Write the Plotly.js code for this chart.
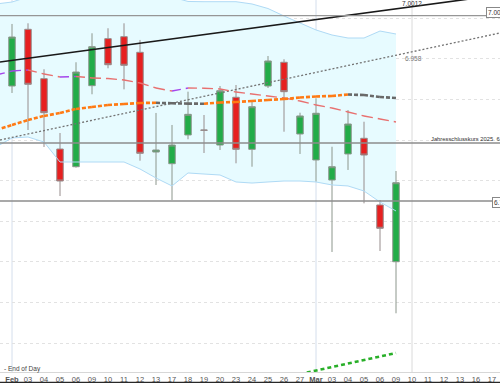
<!DOCTYPE html>
<html>
<head>
<meta charset="utf-8">
<script src="https://cdn.plot.ly/plotly-3.0.1.min.js"></script>
<style>html,body{margin:0;padding:0;background:#fff;}#chart{width:500px;height:383px;}</style>
</head>
<body>
<div id="chart"></div>
<script>
// ---------- data ----------
const tickLabels = ['Feb','03','04','05','06','09','10','11','12','13','17','18','19','20','23','24','25','26','27','Mar','03','04','05','06','09','10','11','12','13','16','17'];
const boldLabels = ['Feb','Mar'];

// daily candles, trading day index 0..24
const open  = [6.9165,6.9863,6.9255,6.8389,6.8171,6.9169,6.9748,6.9772,6.9580,6.8352,6.8208,6.8562,6.8623,6.8438,6.9026,6.8385,6.9165,6.9457,6.8574,6.8254,6.8007,6.8328,6.8521,6.7700,6.7001];
const high  = [6.9929,6.9937,6.9371,6.8586,6.9457,6.9814,6.9876,6.9937,6.9732,6.8833,6.8685,6.9095,6.8808,6.9165,6.9177,6.8993,6.9534,6.9494,6.8836,6.9014,6.8417,6.8869,6.8725,6.7761,6.8118];
const low   = [6.9079,6.8623,6.8414,6.7810,6.8160,6.9063,6.9383,6.9124,6.8245,6.7946,6.7761,6.8509,6.8340,6.8377,6.8213,6.8171,6.9140,6.8602,6.8328,6.7986,6.7121,6.8131,6.7720,6.7133,6.6366];
const close = [6.9768,6.9186,6.8836,6.7995,6.9337,6.9649,6.9427,6.9420,6.8336,6.8377,6.8438,6.8816,6.8620,6.9107,6.8385,6.8910,6.9473,6.9095,6.8796,6.8829,6.8171,6.8697,6.8315,6.7413,6.7974];

// indicators, index -1..24
const bandUpper = [7.0175,7.0199,7.0261,7.0330,7.0400,7.0420,7.0450,7.0460,7.0440,7.0400,7.0320,7.0261,7.0206,7.0203,7.0203,7.0203,7.0175,7.0119,7.0027,6.9941,6.9855,6.9793,6.9756,6.9756,6.9842,6.9805];
const bandLower = [6.8414,6.8525,6.8537,6.8475,6.8229,6.8229,6.8229,6.8229,6.8229,6.8143,6.8032,6.7934,6.8094,6.8081,6.8069,6.7983,6.7970,6.7983,6.7995,6.7995,6.7983,6.7946,6.7934,6.7872,6.7736,6.7626];
const avgShort  = [6.9300,6.9350,6.9362,6.9313,6.9276,6.9282,6.9264,6.9257,6.9239,6.9202,6.9140,6.9103,6.9140,6.9138,6.9128,6.9091,6.9066,6.9042,6.9017,6.8980,6.8931,6.8894,6.8845,6.8796,6.8759,6.8722];
const avgLong   = [6.8623,6.8685,6.8746,6.8796,6.8833,6.8882,6.8906,6.8931,6.8943,6.8956,6.8958,6.8952,6.8948,6.8947,6.8962,6.8968,6.8980,6.8993,6.9005,6.9023,6.9036,6.9042,6.9060,6.9054,6.9030,6.9017];
// green indicator, index 18..24
const lowerSignal = [6.5618,6.5661,6.5711,6.5754,6.5797,6.5840,6.5877];

// trend lines (value at left edge, value at right edge)
const trendBlack  = [6.9461,7.0287];
const trendDotted = [6.8500,6.9818];
const trendLabels = ['7.0012','6.958'];

// horizontal levels
const levelTop = 7.0031;
const yearClose = 6.8463;
const levelLow = 6.7749;

// ---------- build ----------
const X0 = -0.75, X1 = 30.5;
const candleX = open.map((_, i) => i);
const indX = avgShort.map((_, i) => i - 1);
const sigX = lowerSignal.map((_, i) => i + 18);

function segTraces(xs, ys, upColor, downColor, width, dash) {
  const up = {x: [], y: []}, dn = {x: [], y: []};
  for (let k = 0; k < ys.length - 1; k++) {
    const t = ys[k + 1] > ys[k] ? up : dn;
    t.x.push(xs[k], xs[k + 1], null);
    t.y.push(ys[k], ys[k + 1], null);
  }
  const mk = (d, c) => ({type: 'scatter', mode: 'lines', x: d.x, y: d.y, connectgaps: false,
    line: {color: c, width: width, dash: dash}, hoverinfo: 'skip'});
  return [mk(dn, downColor), mk(up, upColor)];
}

// band area as a data-coordinate path (drawn between grid and traces)
let bandPath = 'M' + indX.map((x, i) => x + ',' + bandUpper[i]).join('L');
for (let i = indX.length - 1; i >= 0; i--) bandPath += 'L' + indX[i] + ',' + bandLower[i];
bandPath += 'Z';

const traces = [
  {type: 'candlestick', x: candleX, open: open, high: high, low: low, close: close,
   increasing: {line: {color: 'rgb(140,150,140)', width: 1}, fillcolor: 'rgb(34,172,72)'},
   decreasing: {line: {color: 'rgb(150,140,140)', width: 1}, fillcolor: 'rgb(230,32,32)'},
   whiskerwidth: 0, hoverinfo: 'skip'},
  {type: 'scatter', mode: 'lines', x: indX, y: bandUpper, line: {color: 'rgb(175,218,245)', width: 1}, hoverinfo: 'skip'},
  {type: 'scatter', mode: 'lines', x: indX, y: bandLower, line: {color: 'rgb(175,218,245)', width: 1}, hoverinfo: 'skip'},
  {type: 'scatter', mode: 'lines', x: [X0, X1], y: trendDotted, line: {color: 'rgb(115,115,115)', width: 1.3, dash: '2px,2px'}, hoverinfo: 'skip'},
  ...segTraces(indX, avgShort, 'rgb(165,70,235)', 'rgb(232,112,112)', 1.4, '9px,5px'),
  ...segTraces(indX, avgLong, 'rgb(255,122,20)', 'rgb(105,105,105)', 2.6, '4px,2px'),
  {type: 'scatter', mode: 'lines', x: sigX, y: lowerSignal, line: {color: 'rgb(40,175,40)', width: 2.6, dash: '4px,3px'}, hoverinfo: 'skip'},
  {type: 'scatter', mode: 'lines', x: [X0, X1], y: trendBlack, line: {color: 'rgb(25,25,25)', width: 1.6}, hoverinfo: 'skip'}
];

const PH = 372; // plot height in px
const py = px => 1 - px / PH;
const annFont = {family: 'Liberation Sans, Arial, sans-serif', size: 6.5, color: '#333'};

const layout = {
  width: 500, height: 383,
  margin: {l: 0, r: 0, t: 0, b: 11, pad: 0},
  paper_bgcolor: '#fff', plot_bgcolor: '#fff',
  showlegend: false, hovermode: false,
  boxgap: 0.42,
  font: {family: 'Liberation Sans, Arial, sans-serif', size: 8, color: '#555'},
  xaxis: {
    range: [X0, X1], rangeslider: {visible: false}, showgrid: false, zeroline: false,
    tickmode: 'array', tickvals: tickLabels.map((_, i) => i),
    ticktext: tickLabels.map(t => boldLabels.includes(t) ? '<b>' + t + '</b>' : t),
    tickfont: {size: 7.5, color: '#555'}, ticks: '', showline: true, linecolor: 'rgb(215,215,215)', linewidth: 1,
    fixedrange: true
  },
  yaxis: {
    range: [6.5643, 7.0224], tick0: 6.85, dtick: 0.05, showticklabels: false, zeroline: false,
    showgrid: true, gridcolor: 'rgb(226,226,226)', griddash: 'dot', gridwidth: 1, fixedrange: true
  },
  shapes: [
    {type: 'path', xref: 'x', yref: 'y', path: bandPath, layer: 'between', fillcolor: 'rgb(231,251,255)', line: {width: 0}},
    {type: 'line', xref: 'x', yref: 'paper', x0: 0, x1: 0, y0: 0, y1: 1, layer: 'between', line: {color: 'rgb(212,222,236)', width: 1}},
    {type: 'line', xref: 'x', yref: 'paper', x0: 19, x1: 19, y0: 0, y1: 1, layer: 'between', line: {color: 'rgb(212,222,236)', width: 1}},
    {type: 'line', xref: 'x', yref: 'paper', x0: 25, x1: 25, y0: 0, y1: 1, layer: 'between', line: {color: 'rgb(218,218,218)', width: 1}},
    {type: 'line', xref: 'paper', yref: 'y', x0: 0, x1: 1, y0: levelTop, y1: levelTop, layer: 'above', line: {color: 'rgb(150,150,150)', width: 1.3}},
    {type: 'line', xref: 'paper', yref: 'y', x0: 0, x1: 1, y0: yearClose, y1: yearClose, layer: 'above', line: {color: 'rgb(140,140,140)', width: 1.3}},
    {type: 'line', xref: 'paper', yref: 'y', x0: 0, x1: 1, y0: levelLow, y1: levelLow, layer: 'above', line: {color: 'rgb(140,140,140)', width: 1.3}},
    {type: 'line', xref: 'paper', yref: 'paper', x0: 0, x1: 1, y0: -10.6 / PH, y1: -10.6 / PH, line: {color: 'rgb(40,40,40)', width: 1.5}}
  ],
  annotations: [
    {xref: 'paper', yref: 'paper', x: 412 / 500, y: py(4), text: trendLabels[0], showarrow: false, xanchor: 'center', yanchor: 'middle', font: annFont},
    {xref: 'paper', yref: 'paper', x: 413 / 500, y: py(59), text: trendLabels[1], showarrow: false, xanchor: 'center', yanchor: 'middle', font: Object.assign({}, annFont, {color: '#777'})},
    {xref: 'paper', yref: 'paper', x: 429 / 500, y: py(139), text: 'Jahresschlusskurs 2025  ' + yearClose.toFixed(4), showarrow: false, xanchor: 'left', yanchor: 'middle', font: Object.assign({}, annFont, {size: 5.8})},
    {xref: 'paper', yref: 'paper', x: 486 / 500, y: py(13), text: levelTop.toFixed(4), showarrow: false, xanchor: 'left', yanchor: 'middle', font: annFont, bgcolor: '#fff', bordercolor: '#888', borderwidth: 1, borderpad: 1},
    {xref: 'paper', yref: 'paper', x: 492 / 500, y: py(203), text: levelLow.toFixed(4), showarrow: false, xanchor: 'left', yanchor: 'middle', font: annFont, bgcolor: '#fff', bordercolor: '#888', borderwidth: 1, borderpad: 1},
    {xref: 'paper', yref: 'paper', x: 2 / 500, y: py(368.5), text: '- End of Day', showarrow: false, xanchor: 'left', yanchor: 'middle', font: Object.assign({}, annFont, {color: '#444'})}
  ]
};

Plotly.newPlot('chart', traces, layout, {staticPlot: true, displayModeBar: false});
</script>
</body>
</html>
